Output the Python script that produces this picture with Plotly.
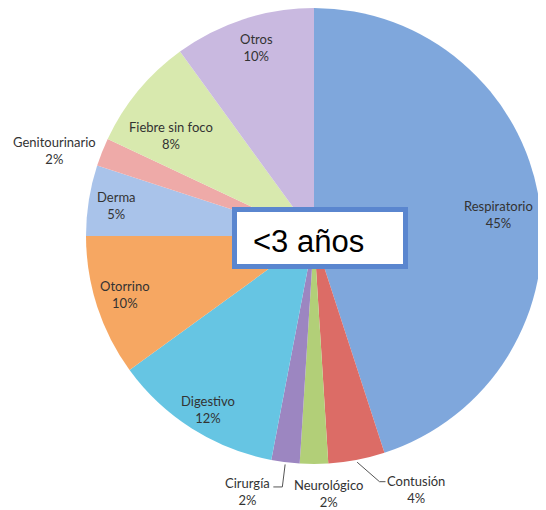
import math
import plotly.graph_objects as go

# ---- data ----
labels = ["Respiratorio", "Contusión", "Neurológico", "Cirurgía", "Digestivo",
          "Otorrino", "Derma", "Genitourinario", "Fiebre sin foco", "Otros"]
values = [45, 4, 2, 2, 12, 10, 5, 2, 8, 10]
box_title = "<3 años"

# ---- style ----
colors = ["#7fa7dc", "#dc6c66", "#b2cf78", "#9c86c1", "#66c5e3",
          "#f6a762", "#a9c3ea", "#eeaaa8", "#d8e9ae", "#c9b9e0"]
label_r = [0.813, 1.2, 1.132, 1.16, 0.894, 0.868, 0.875, 1.196, 0.765, 0.863]
label_dt = [2.2, -11.2, -3.3, 7.4, -1.0, 0.7, -0.1, -3.4, -4.6, 0.9]
# leader lines: index -> (elbow dx, elbow dy, end dx, end dy) relative to label centre
leaders = {1: (-37, -8, -31, -8), 3: (35, -5, 26, -5)}

# page body has an 8px margin: figure origin sits at (8, 8) in the window
OFF = 8
WIN_W, WIN_H = 546, 510
W, H = WIN_W - OFF, WIN_H - OFF
CX, CY, R = 314, 236, 228   # window pixel coordinates


def px(x):
    return (x - OFF) / W


def py(y):
    return 1 - (y - OFF) / H


total = sum(values)
fig = go.Figure(go.Pie(
    labels=labels, values=values, sort=False, direction="clockwise", rotation=0,
    marker=dict(colors=colors, line=dict(width=0)), textinfo="none",
    domain=dict(x=[px(CX - R), px(CX + R)], y=[py(CY + R), py(CY - R)]),
    showlegend=False, hoverinfo="label+percent"))

annotations = []
shapes = []
cum = 0
for i, (lab, v) in enumerate(zip(labels, values)):
    mid = (cum + v / 2) / total * 360
    cum += v
    ang = math.radians(mid + label_dt[i])
    lx = CX + label_r[i] * R * math.sin(ang)
    ly = CY - label_r[i] * R * math.cos(ang)
    pct = round(100 * v / total)
    annotations.append(dict(x=px(lx), y=py(ly), xref="paper", yref="paper",
                            text=f"{lab}<br>{pct}%", showarrow=False,
                            xanchor="center", yanchor="middle",
                            font=dict(family="Lato, Open Sans, sans-serif", size=13, color="#333333")))
    if i in leaders:
        ex, ey, tx, ty = leaders[i]
        a0 = math.radians(mid)
        sx = CX + 1.01 * R * math.sin(a0)
        sy = CY - 1.01 * R * math.cos(a0)
        path = (f"M {px(sx)},{py(sy)} L {px(lx + ex)},{py(ly + ey)} "
                f"L {px(lx + tx)},{py(ly + ty)}")
        shapes.append(dict(type="path", path=path, xref="paper", yref="paper",
                           line=dict(color="#555555", width=1)))

# title box
bw = 5
shapes.append(dict(type="rect", xref="paper", yref="paper",
                   x0=px(232 + bw / 2), x1=px(408 - bw / 2),
                   y0=py(269 - bw / 2), y1=py(207 + bw / 2),
                   fillcolor="white", line=dict(color="#5a86cf", width=bw)))
annotations.append(dict(x=px(251), y=py(241), xref="paper", yref="paper",
                        text=box_title, showarrow=False, xanchor="left", yanchor="middle",
                        font=dict(family="Liberation Sans, Arial, sans-serif", size=31, color="black")))

fig.update_layout(width=W, height=H, margin=dict(l=0, r=0, t=0, b=0),
                  paper_bgcolor="white", plot_bgcolor="white",
                  annotations=annotations, shapes=shapes)
fig.write_html("out.html")
